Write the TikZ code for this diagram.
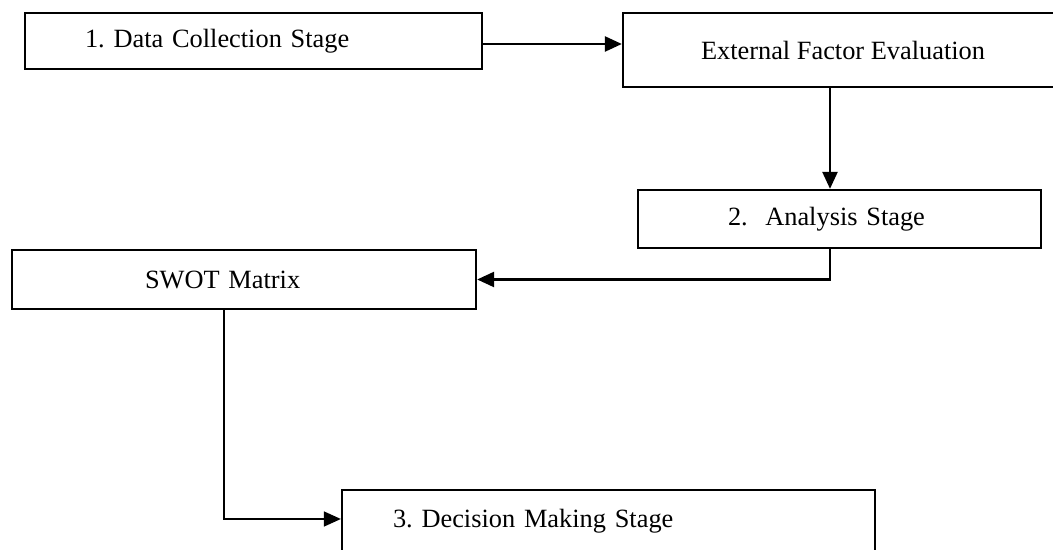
\documentclass[tikz,border=0pt]{standalone}
\usepackage{fontspec}
\setmainfont{Liberation Serif}
\usetikzlibrary{arrows.meta}
\frenchspacing
\tikzset{
  stagebox/.style={draw=black, line width=1.3pt, rectangle, font=\fontsize{15}{18}\selectfont, inner sep=0pt},
  stageleft/.style={stagebox, align=left},
  flowline/.style={line width=1.4pt, draw=black, -{Triangle[length=0.34cm, width=0.30cm]}},
  flowthin/.style={flowline, line width=0.9pt},
}
\begin{document}
\begin{tikzpicture}
\clip (0,0) rectangle (21.060,11.000);
\node[stageleft, inner xsep=1.20cm, text width=6.74cm, minimum height=1.12cm] (collect) at (5.070,10.180) {1. Data Collection Stage};
\node[stagebox, minimum width=8.80cm, minimum height=1.48cm] (efe) at (16.860,10.000) {External Factor Evaluation};
\node[stageleft, inner xsep=1.80cm, text width=4.46cm, minimum height=1.16cm] (analysis) at (16.790,6.620) {2.~~Analysis Stage};
\node[stageleft, inner xsep=2.66cm, text width=3.96cm, minimum height=1.18cm] (swot) at (4.880,5.410) {SWOT Matrix};
\node[stageleft, inner xsep=1.02cm, text width=8.62cm, minimum height=1.26cm] (decide) at (12.170,0.570) {3. Decision Making Stage};
\draw[flowline] ([yshift=-0.06cm]collect.east) -- ([yshift=-0.06cm]collect.east -| efe.west);
\draw[flowline] ([xshift=-0.19cm]analysis.north |- efe.south) -- ([xshift=-0.19cm]analysis.north);
\draw[flowline] ([xshift=-0.19cm]analysis.south) |- (swot.east);
\draw[flowthin] ([xshift=-0.40cm]swot.south) |- ([yshift=0.05cm]decide.west);
\end{tikzpicture}
\end{document}
